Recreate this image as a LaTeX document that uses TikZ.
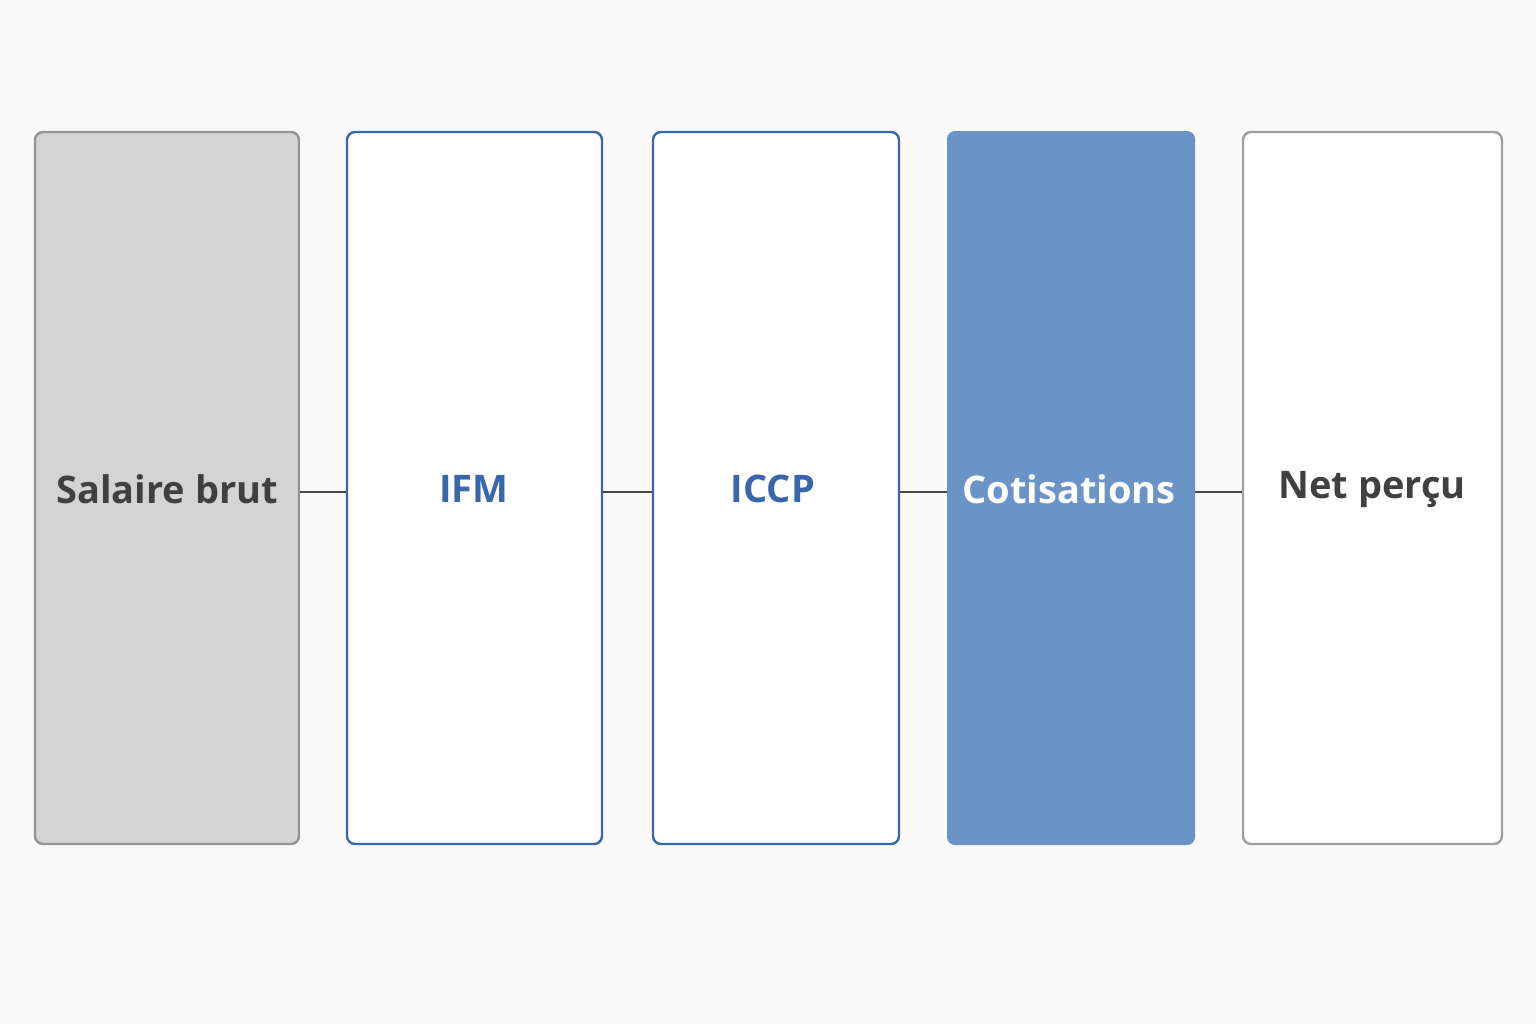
\documentclass[tikz,border=0pt]{standalone}
\usepackage{fontspec}
\setmainfont{Open Sans}
\begin{document}
\begin{tikzpicture}[x=0.5pt,y=-0.5pt,
 box/.style={rounded corners=4pt,line width=1.2pt},
 lbl/.style={font=\fontsize{19}{22}\selectfont\bfseries},
 con/.style={draw=black!72,line width=1.1pt}]
\fill[black!2] (0,0) rectangle (1536,1024);
\useasboundingbox (0,0) rectangle (1536,1024);
\definecolor{bl}{HTML}{3A66AD}
\definecolor{bf}{HTML}{6A93C8}
\draw[box,fill=black!17,draw=black!42] (35,132) rectangle (299,844);
\draw[box,fill=white,draw=bl] (347,132) rectangle (602,844);
\draw[box,fill=white,draw=bl] (653,132) rectangle (899,844);
\fill[box,fill=bf] (947,131) rectangle (1195,845);
\draw[box,fill=white,draw=black!38] (1243,132) rectangle (1502,844);
\node[lbl,text=black!75] (a) at (167,489) {Salaire brut};
\node[lbl,text=bl] (b) at (474,489) {IFM};
\node[lbl,text=bl] (c) at (773,489) {ICCP};
\node[lbl,text=white] (d) at (1069,489) {Cotisations};
\node[lbl,text=black!75] (e) at (1372,489) {Net perçu};
\coordinate (a1) at (300,492); \coordinate (b0) at (346,492);
\coordinate (b1) at (603,492); \coordinate (c0) at (652,492);
\coordinate (c1) at (900,492); \coordinate (d0) at (947,492);
\coordinate (d1) at (1195,492); \coordinate (e0) at (1242,492);
\draw[con] (a1)--(b0); \draw[con] (b1)--(c0); \draw[con] (c1)--(d0); \draw[con] (d1)--(e0);
\end{tikzpicture}
\end{document}
